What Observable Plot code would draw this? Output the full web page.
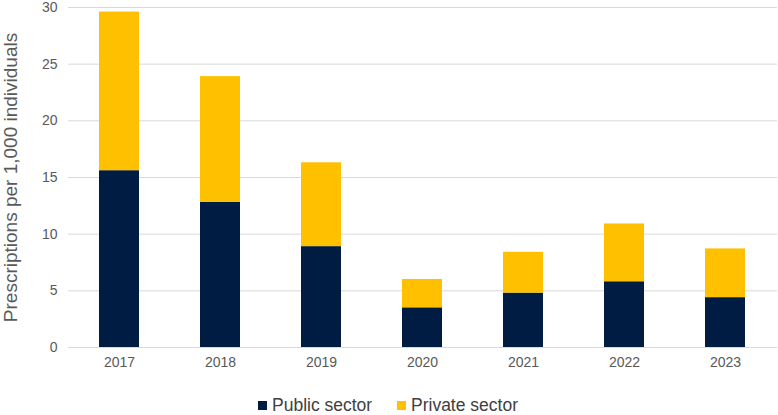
<!DOCTYPE html>
<html>
<head>
<meta charset="utf-8">
<script src="https://cdn.jsdelivr.net/npm/d3@7"></script>
<script src="https://cdn.jsdelivr.net/npm/@observablehq/plot@0.6"></script>
<style>
  body { margin: 0; background: #fff; font-family: "Liberation Sans", Arial, sans-serif; }
  #chart { width: 778px; }
  .legend { position: relative; height: 35px; width: 778px; }
  .legend .item { position: absolute; top: 16px; display: flex; align-items: center; font-size: 17.5px; color: #404040; line-height: 1.1; }
  .legend .sw { width: 9px; height: 9px; margin-right: 5px; }
</style>
</head>
<body>
<div id="chart"></div>
<div class="legend" id="legend"></div>
<script>
const years = ["2017", "2018", "2019", "2020", "2021", "2022", "2023"];
const publicSector = [15.6, 12.8, 8.9, 3.5, 4.8, 5.8, 4.4];
const privateSector = [14.0, 11.1, 7.4, 2.5, 3.6, 5.1, 4.3];
const seriesNames = ["Public sector", "Private sector"];
const seriesColors = ["#001c42", "#ffc000"];
const yTicks = [0, 5, 10, 15, 20, 25, 30];

const data = [];
years.forEach((y, i) => {
  data.push({year: y, sector: seriesNames[0], value: publicSector[i]});
  data.push({year: y, sector: seriesNames[1], value: privateSector[i]});
});

const plot = Plot.plot({
  width: 778,
  height: 380,
  marginTop: 7,
  marginBottom: 33,
  marginLeft: 68,
  marginRight: 1,
  style: {fontFamily: "'Liberation Sans', Arial, sans-serif", fontSize: "14px", color: "#595959", background: "#fff"},
  x: {domain: years, paddingInner: 0.6, paddingOuter: 0.3, label: null, tickSize: 0, tickPadding: 10},
  y: {domain: [0, 30], ticks: yTicks, label: null, tickSize: 0, tickPadding: 11, grid: false},
  color: {domain: seriesNames, range: seriesColors},
  marks: [
    Plot.gridY(yTicks, {stroke: "#d9d9d9", strokeOpacity: 1, strokeWidth: 1}),
    Plot.barY(data, Plot.stackY({x: "year", y: "value", fill: "sector", order: seriesNames})),
    Plot.axisX({tickSize: 0, tickPadding: 10, fontSize: 14, label: null}),
    Plot.axisY(yTicks, {tickSize: 0, tickPadding: 11, fontSize: 14, label: null}),
    Plot.text(["Prescriptions per 1,000 individuals"], {
      frameAnchor: "left", dx: -58, rotate: -90, textAnchor: "middle", fontSize: 19, fill: "#595959"
    })
  ]
});
document.getElementById("chart").appendChild(plot);

const legend = document.getElementById("legend");
const lefts = [258, 397];
seriesNames.forEach((name, i) => {
  const it = document.createElement("div");
  it.className = "item";
  it.style.left = lefts[i] + "px";
  const sw = document.createElement("span");
  sw.className = "sw";
  sw.style.background = seriesColors[i];
  it.appendChild(sw);
  it.appendChild(document.createTextNode(name));
  legend.appendChild(it);
});
</script>
</body>
</html>
